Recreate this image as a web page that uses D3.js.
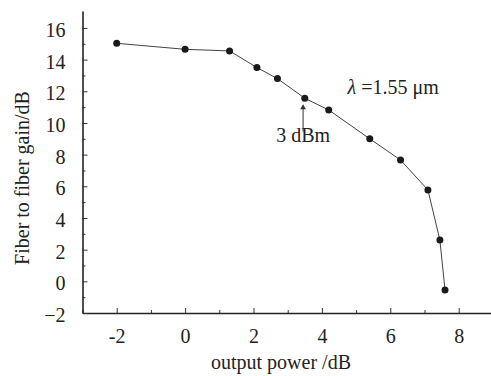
<!DOCTYPE html>
<html>
<head>
<meta charset="utf-8">
<script src="https://cdn.jsdelivr.net/npm/d3@7"></script>
<style>
  body { margin: 0; background: #fff; }
  svg text { font-family: "Liberation Serif", "Times New Roman", Times, serif; fill: #222; }
</style>
</head>
<body>
<div id="chart"></div>
<script>
// DATA
var outputPower = [-2, 0, 1.3, 2.1, 2.7, 3.5, 4.2, 5.4, 6.3, 7.1, 7.45, 7.6];
var gain = [15.03, 14.65, 14.55, 13.5, 12.8, 11.56, 10.82, 9.0, 7.66, 5.77, 2.61, -0.55];
var xTicks = [-2, 0, 2, 4, 6, 8];
var yTicks = [-2, 0, 2, 4, 6, 8, 10, 12, 14, 16];

var points = outputPower.map(function (d, i) {
  return { x: d, y: gain[i] };
});

var serif = "'Liberation Serif', 'Times New Roman', Times, serif";

// SVG
var width = 491,
  height = 376;

var svg = d3
  .select("#chart")
  .append("svg")
  .attr("width", width)
  .attr("height", height)
  .attr("font-family", serif);

var xScale = d3.scaleLinear().domain([-3, 9]).range([82.5, 492.9]),
  yScale = d3.scaleLinear().domain([-2, 17.07]).range([313, 11]);

// minor ticks (odd values)
var xMinor = d3.range(-3, 9, 1).filter(function (d) { return Math.abs(d % 2) == 1; });
var yMinor = d3.range(-1, 17, 2);

svg.append("g")
  .attr("transform", "translate(0," + yScale(-2) + ")")
  .call(d3.axisBottom(xScale).tickValues(xMinor).tickSize(-3).tickFormat(""))
  .call(function (g) { g.select(".domain").remove(); });

svg.append("g")
  .attr("transform", "translate(" + xScale(-3) + ",0)")
  .call(d3.axisLeft(yScale).tickValues(yMinor).tickSize(-3).tickFormat(""))
  .call(function (g) { g.select(".domain").remove(); });

// X-axis
var xAxis = svg
  .append("g")
  .attr("transform", "translate(0," + yScale(-2) + ")")
  .call(
    d3.axisBottom(xScale)
      .tickValues(xTicks)
      .tickSize(-5)
      .tickSizeOuter(0)
      .tickPadding(16)
      .tickFormat(function (d) { return d < 0 ? "-" + Math.abs(d) : d; })
  );

// Y-axis
var yAxis = svg
  .append("g")
  .attr("transform", "translate(" + xScale(-3) + ",0)")
  .call(
    d3.axisLeft(yScale)
      .tickValues(yTicks)
      .tickSize(-5)
      .tickSizeOuter(0)
      .tickPadding(17)
      .tickFormat(function (d) { return d < 0 ? "\u2212" + Math.abs(d) : d; })
  );

svg.selectAll("g").attr("font-family", serif).attr("font-size", 20);
svg.selectAll(".tick line").attr("stroke", "#333");
svg.selectAll(".domain").attr("stroke", "#222").attr("stroke-width", 1.6);
svg.selectAll(".tick text")
  .style("font-family", serif)
  .style("font-size", "20px")
  .attr("fill", "#222");
yAxis.selectAll(".tick text").attr("dy", "0.42em");

// axis titles
svg.append("text")
  .attr("x", 281)
  .attr("y", 369)
  .attr("text-anchor", "middle")
  .style("font-size", "20px")
  .text("output power /dB");

svg.append("text")
  .attr("transform", "translate(29,178) rotate(-90)")
  .attr("text-anchor", "middle")
  .style("font-size", "20px")
  .text("Fiber to fiber gain/dB");

// line + dots
var line = d3.line()
  .x(function (d) { return xScale(d.x); })
  .y(function (d) { return yScale(d.y); });

svg.append("path")
  .datum(points)
  .attr("d", line)
  .attr("fill", "none")
  .attr("stroke", "#444")
  .attr("stroke-width", 1);

svg.selectAll("dot")
  .data(points)
  .enter()
  .append("circle")
  .attr("cx", function (d) { return xScale(d.x); })
  .attr("cy", function (d) { return yScale(d.y); })
  .attr("r", 3.5)
  .attr("fill", "#1a1a1a");

// annotations
var lam = svg.append("text")
  .attr("x", xScale(4.75))
  .attr("y", yScale(11.83))
  .style("font-size", "20px");
lam.append("tspan").style("font-style", "italic").text("\u03bb");
lam.append("tspan").text(" =1.55 \u03bcm");

svg.append("text")
  .attr("x", xScale(3.45))
  .attr("y", yScale(8.8))
  .attr("text-anchor", "middle")
  .style("font-size", "20px")
  .text("3 dBm");

svg.append("line")
  .attr("x1", xScale(3.45))
  .attr("x2", xScale(3.45))
  .attr("y1", yScale(9.45))
  .attr("y2", yScale(11.1))
  .attr("stroke", "#333")
  .attr("stroke-width", 1);

svg.append("path")
  .attr("d", d3.symbol(d3.symbolTriangle, 14)())
  .attr("transform", "translate(" + xScale(3.45) + "," + (yScale(11.1) + 2) + ")")
  .attr("fill", "#333");
</script>
</body>
</html>
